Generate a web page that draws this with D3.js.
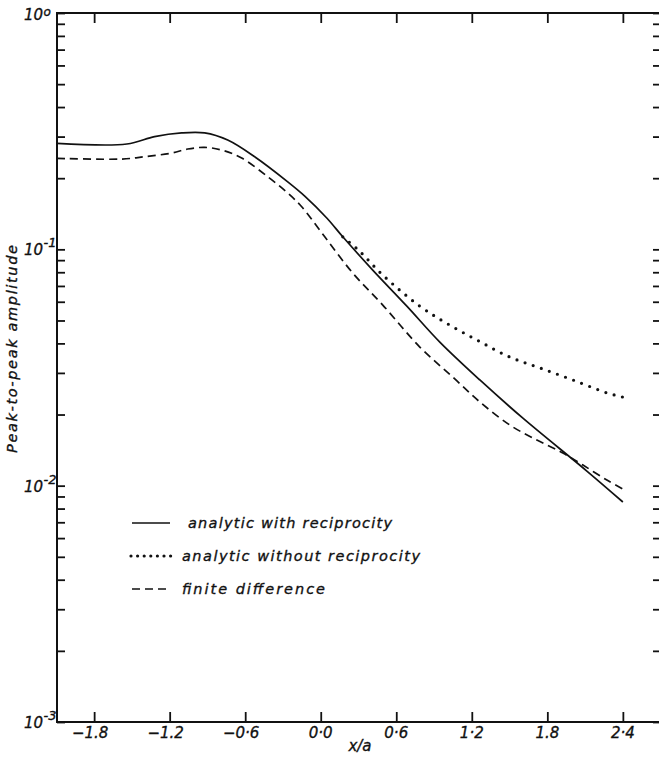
<!DOCTYPE html>
<html>
<head>
<meta charset="utf-8">
<script src="https://cdn.jsdelivr.net/npm/d3@7"></script>
<style>
  html, body { margin: 0; padding: 0; background: #fff; }
  svg text { font-family: "DejaVu Sans", "Liberation Sans", sans-serif; font-style: italic; fill: #111; stroke: #111; stroke-width: 0.35px; }
</style>
</head>
<body>
<svg id="chart" width="659" height="757"></svg>
<script>
// ---- data ----
const xSolid = [-2.095, -1.54, -1.32, -1.105, -0.922, -0.739, -0.525, -0.262, -0.127, 0.048, 0.175, 0.413, 0.684, 0.946, 1.264, 1.606, 2.114, 2.40];
const ySolid = [0.281, 0.279, 0.300, 0.311, 0.311, 0.290, 0.2465, 0.193, 0.168, 0.1357, 0.113, 0.0817, 0.0575, 0.0405, 0.0280, 0.0193, 0.01153, 0.00853];

const xDotted = [0.175, 0.31, 0.493, 0.787, 1.025, 1.264, 1.502, 1.741, 2.003, 2.273, 2.40];
const yDotted = [0.113, 0.0980, 0.0778, 0.0575, 0.0478, 0.0407, 0.035, 0.0315, 0.028, 0.0247, 0.0237];

const xDashed = [-2.095, -1.58, -1.40, -1.184, -1.057, -0.922, -0.787, -0.628, -0.421, -0.262, -0.151, 0.032, 0.254, 0.493, 0.787, 1.049, 1.264, 1.502, 1.717, 1.924, 2.083, 2.273, 2.40];
const yDashed = [0.2427, 0.241, 0.2465, 0.2556, 0.2657, 0.270, 0.263, 0.2434, 0.2029, 0.173, 0.1514, 0.113, 0.0794, 0.0581, 0.0386, 0.0288, 0.0226, 0.01805, 0.0156, 0.01374, 0.01222, 0.01056, 0.00968];

const xTicks = [-1.8, -1.2, -0.6, 0.0, 0.6, 1.2, 1.8, 2.4];
const xTickLabels = ["\u22121.8", "\u22121.2", "\u22120\u00b76", "0\u00b70", "0\u00b76", "1\u00b72", "1.8", "2\u00b74"];
const yMajor = [1, 0.1, 0.01, 0.001];
const yExponents = ["o", "-1", "-2", "-3"];

const seriesNames = ["analytic with reciprocity", "analytic without reciprocity", "finite difference"];
const xLabel = "x/a";
const yLabel = "Peak-to-peak amplitude";

// ---- layout ----
const svg = d3.select("#chart");
const mLeft = 57, mRight = 660, mTop = 13, mBottom = 722;
const x = d3.scaleLinear().domain([-2.095, 2.695]).range([mLeft, mRight]);
const y = d3.scaleLog().domain([0.001, 1]).range([mBottom, mTop]);

const ink = "#111";

// minor tick values
const minor = [];
for (let e = -3; e < 0; e++) for (let m = 2; m <= 9; m++) minor.push(m * Math.pow(10, e));

// frame
svg.append("rect").attr("x", mLeft).attr("y", mTop).attr("width", mRight - mLeft).attr("height", mBottom - mTop)
  .attr("fill", "none").attr("stroke", ink).attr("stroke-width", 2);

// bottom axis ticks (inward)
const xAxisB = d3.axisBottom(x).tickValues(xTicks).tickSize(-10).tickFormat("");
svg.append("g").attr("transform", `translate(0,${mBottom})`).call(xAxisB)
  .call(g => g.select(".domain").remove())
  .call(g => g.selectAll("line").attr("stroke", ink).attr("stroke-width", 1.8));
// top axis ticks
const xAxisT = d3.axisTop(x).tickValues(xTicks).tickSize(-10).tickFormat("");
svg.append("g").attr("transform", `translate(0,${mTop})`).call(xAxisT)
  .call(g => g.select(".domain").remove())
  .call(g => g.selectAll("line").attr("stroke", ink).attr("stroke-width", 1.8));

// x tick labels
svg.append("g").selectAll("text").data(xTicks).join("text")
  .attr("x", (d) => x(d) - (d < 0 ? 4 : 0)).attr("y", 738)
  .attr("text-anchor", "middle").attr("font-size", 15)
  .text((d, i) => xTickLabels[i]);

// left axis: minor ticks + major
const yAxisL = d3.axisLeft(y).tickValues(minor.concat(yMajor)).tickSize(-8).tickFormat("");
svg.append("g").attr("transform", `translate(${mLeft},0)`).call(yAxisL)
  .call(g => g.select(".domain").remove())
  .call(g => g.selectAll("line").attr("stroke", ink).attr("stroke-width", 1.8));
const yAxisR = d3.axisRight(y).tickValues(minor.concat(yMajor)).tickSize(-7).tickFormat("");
svg.append("g").attr("transform", `translate(${mRight},0)`).call(yAxisR)
  .call(g => g.select(".domain").remove())
  .call(g => g.selectAll("line").attr("stroke", ink).attr("stroke-width", 1.8));

// y major labels: 10 with superscript exponent
const yl = svg.append("g").selectAll("g").data(yMajor).join("g")
  .attr("transform", d => `translate(0,${y(d)})`);
yl.append("text").attr("x", 43).attr("y", d => d === 1 ? 7 : 6).attr("text-anchor", "end").attr("font-size", 15).text("10");
yl.append("text").attr("x", 43.5).attr("y", d => d === 1 ? 3 : -2).attr("text-anchor", "start")
  .attr("font-size", d => d === 1 ? 12 : 13)
  .text((d, i) => yExponents[i]);

// axis titles
svg.append("text").attr("x", 360).attr("y", 751).attr("text-anchor", "middle").attr("font-size", 15).text(xLabel);
svg.append("text").attr("transform", "translate(17,349) rotate(-90)").attr("text-anchor", "middle")
  .attr("font-size", 14.5).attr("textLength", 208).attr("lengthAdjust", "spacing").text(yLabel);

// curves
const line = d3.line().x(d => x(d[0])).y(d => y(d[1])).curve(d3.curveCatmullRom.alpha(0.5));
const zipPts = (xs, ys) => xs.map((v, i) => [v, ys[i]]);

svg.append("path").datum(zipPts(xSolid, ySolid)).attr("d", line)
  .attr("fill", "none").attr("stroke", ink).attr("stroke-width", 1.7);
svg.append("path").datum(zipPts(xDashed, yDashed)).attr("d", line)
  .attr("fill", "none").attr("stroke", ink).attr("stroke-width", 1.7).attr("stroke-dasharray", "8 5");
svg.append("path").datum(zipPts(xDotted, yDotted)).attr("d", line)
  .attr("fill", "none").attr("stroke", ink).attr("stroke-width", 3.2)
  .attr("stroke-linecap", "round").attr("stroke-dasharray", "0 8.6");

// legend
const legendY = [523, 556, 589];
const legendTextX = [188, 182, 182];
const legendTextLen = [204, 238, 143];
const legendStyles = [
  {w: 1.7, dash: null, cap: "butt", x0: 132, x1: 170},
  {w: 3.2, dash: "0 6.6", cap: "round", x0: 131, x1: 172},
  {w: 1.7, dash: "8 5", cap: "butt", x0: 132, x1: 170}
];
const lg = svg.append("g").selectAll("g").data(seriesNames).join("g");
lg.append("line")
  .attr("x1", (d, i) => legendStyles[i].x0).attr("x2", (d, i) => legendStyles[i].x1)
  .attr("y1", (d, i) => legendY[i]).attr("y2", (d, i) => legendY[i])
  .attr("stroke", ink).attr("stroke-width", (d, i) => legendStyles[i].w)
  .attr("stroke-linecap", (d, i) => legendStyles[i].cap)
  .attr("stroke-dasharray", (d, i) => legendStyles[i].dash);
lg.append("text")
  .attr("x", (d, i) => legendTextX[i]).attr("y", (d, i) => legendY[i] + 5)
  .attr("font-size", 14.5).attr("textLength", (d, i) => legendTextLen[i]).attr("lengthAdjust", "spacing")
  .text(d => d);
</script>
</body>
</html>
